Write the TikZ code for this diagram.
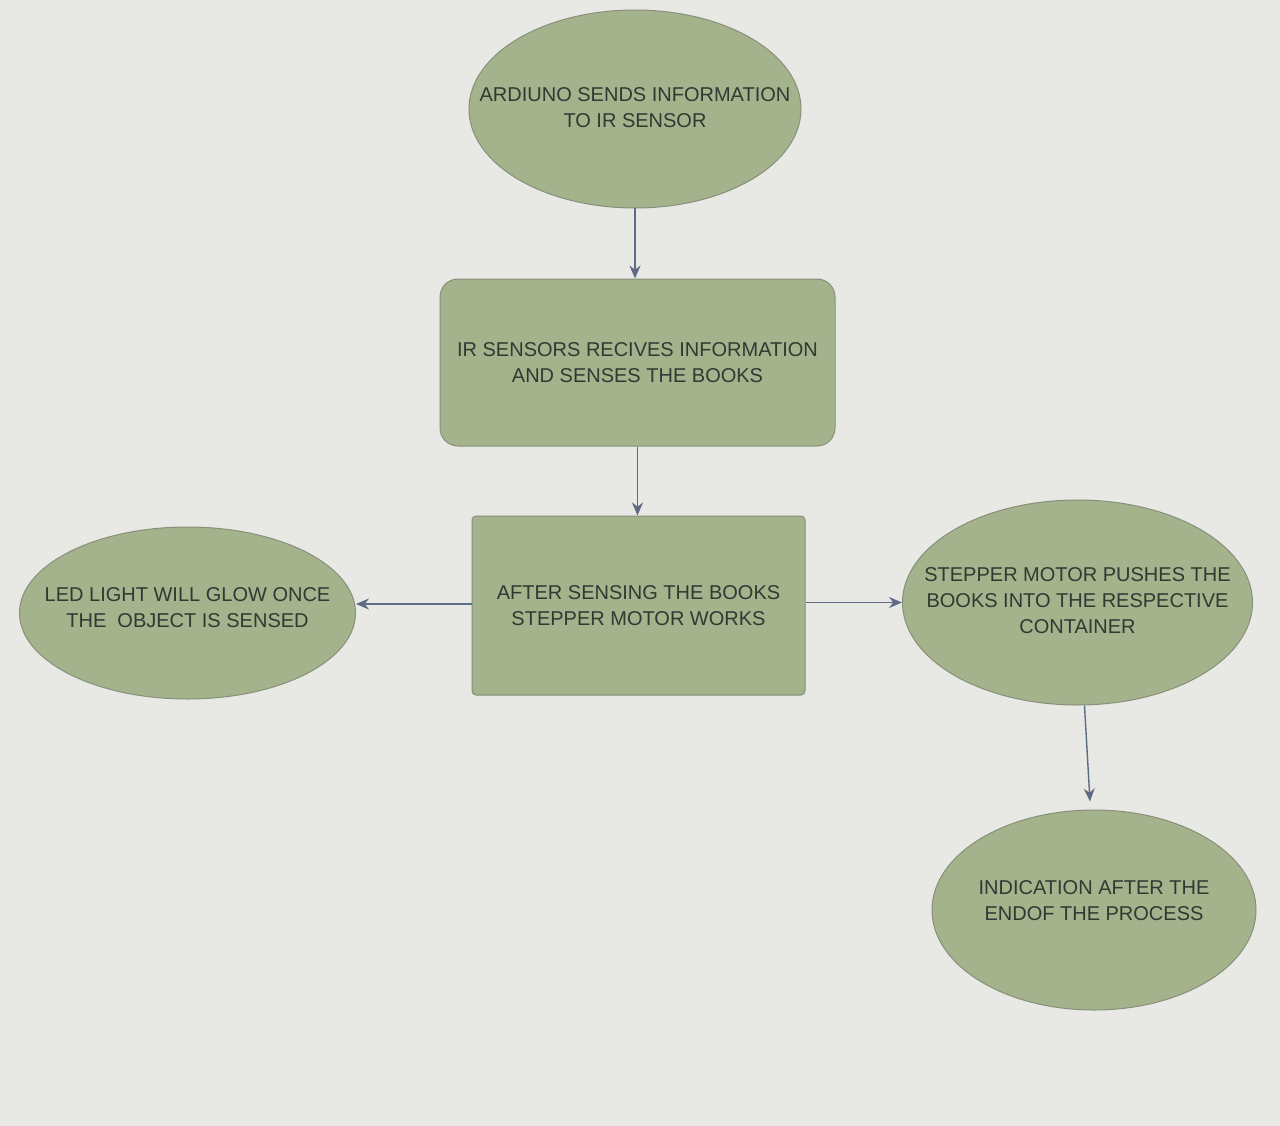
\documentclass[tikz,border=0pt]{standalone}
\usepackage{fontspec}
\setmainfont{Liberation Sans}
\usetikzlibrary{shapes.geometric,arrows.meta}
\definecolor{bgc}{HTML}{E8E8E4}
\definecolor{fillc}{HTML}{A4B38B}
\definecolor{edgec}{HTML}{86907A}
\definecolor{arrc}{HTML}{5E6B85}
\definecolor{txtc}{HTML}{333833}
\begin{document}
\begin{tikzpicture}[x=1pt,y=-1pt,
  shapetext/.style={text=txtc,align=center,font=\fontsize{20}{26}\selectfont,inner sep=0pt},
  shapebase/.style={fill=fillc,draw=edgec,line width=1pt,inner sep=0pt},
  oval/.style={shapebase,ellipse},
  boxr/.style={shapebase,shapetext,rectangle,rounded corners=18pt},
  boxs/.style={shapebase,shapetext,rectangle,rounded corners=4pt},
  conn/.style={draw=arrc,line width=1.4pt,-{Stealth[length=13pt,width=11pt]}}]
\fill[bgc] (0,0) rectangle (1280,1126);
\useasboundingbox (0,0) rectangle (1280,1126);
\node[oval,minimum width=332pt,minimum height=198pt,
  label={[shapetext,yshift=1pt]center:ARDIUNO SENDS INFORMATION\\TO IR SENSOR}] (a) at (635,109) {};
\node[boxr,minimum width=395pt,minimum height=167pt] (b) at (637.5,362.5) {IR SENSORS RECIVES INFORMATION\\AND SENSES THE BOOKS};
\node[boxs,minimum width=333pt,minimum height=179pt] (c) at (638.5,605.5) {AFTER SENSING THE BOOKS\\STEPPER MOTOR WORKS};
\node[oval,minimum width=336pt,minimum height=172pt,
  label={[shapetext,yshift=5pt]center:LED LIGHT WILL GLOW ONCE\\THE\ \ OBJECT IS SENSED}] (d) at (187.5,613) {};
\node[oval,minimum width=350pt,minimum height=205pt,
  label={[shapetext,yshift=2pt]center:STEPPER MOTOR PUSHES THE\\BOOKS INTO THE RESPECTIVE\\CONTAINER}] (e) at (1077.5,602.5) {};
\node[oval,minimum width=324pt,minimum height=200pt,
  label={[shapetext,yshift=9pt]center:INDICATION AFTER THE\\ENDOF THE PROCESS}] (f) at (1094,910) {};
\draw[conn] (a.south) -- (a.south |- b.north);
\draw[conn] (b.south) -- (b.south |- c.north);
\draw[conn] (c.west |- 0,604) -- (d.east |- 0,604);
\draw[conn] (c.east |- e.west) -- (e.west);
\draw[conn] ([xshift=7pt]e.south) -- ([xshift=-4pt,yshift=8pt]f.north);
\end{tikzpicture}
\end{document}
